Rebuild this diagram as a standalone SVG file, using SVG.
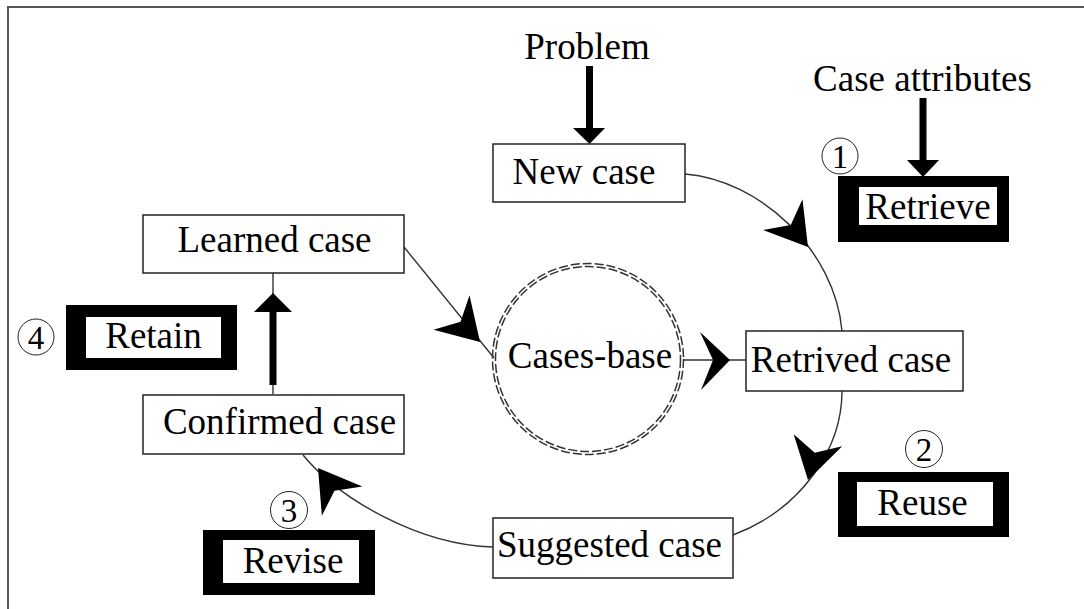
<svg xmlns="http://www.w3.org/2000/svg" width="1084" height="609" viewBox="0 0 1084 609">
<defs>
<style>
text{font-family:"Liberation Serif","Times New Roman",serif;font-size:37px;fill:#000;text-anchor:middle}
.box{fill:#fff;stroke:#222;stroke-width:1.5}
.outer{fill:#000}
.inner{fill:#fff}
.num{font-size:33px}
.ring{fill:#fff;stroke:#222;stroke-width:1}
.conn{fill:none;stroke:#333;stroke-width:1.4}
.thick{fill:none;stroke:#000;stroke-width:7}
.dash{fill:none;stroke:#333;stroke-width:1.5;stroke-dasharray:9 3}
</style>
<path id="ah" d="M0,0 L-41,-25 L-28,0 L-41,25 Z" fill="#000"/>
</defs>
<rect width="1084" height="609" fill="#fff"/>
<g id="frame">
<path d="M8,609 V7 H1084" fill="none" stroke="#555" stroke-width="2"/>
</g>
<g id="connectors">
<path class="conn" d="M685,174 C760,180 835,250 842,331"/>
<use href="#ah" transform="translate(808,247) rotate(52)"/>
<path class="conn" d="M842,391 C842,450 800,510 733,535"/>
<use href="#ah" transform="translate(808,480) rotate(104)"/>
<path class="conn" d="M493,547 C420,545 340,500 303,455"/>
<use href="#ah" transform="translate(318,468) rotate(234)"/>
<path class="conn" d="M404,247 L494,358"/>
<use href="#ah" transform="translate(480,342) rotate(46)"/>
<path class="conn" d="M683,360 H746"/>
<path d="M730,360 L700,332 L713,360 L701,390 Z" fill="#000"/>
<path class="conn" d="M273,273 V394"/>
<path class="thick" d="M273,310 V385"/>
<path d="M254,312 L273,293 L292,312 Z" fill="#000"/>
<path class="thick" d="M589.5,66 V130" stroke-width="6.5"/>
<path d="M573,128 L605,128 L589.5,144 Z" fill="#000"/>
<path class="thick" d="M923,98 V162"/>
<path d="M907,160 L939,160 L923,177 Z" fill="#000"/>
</g>
<g id="problem"><text x="587" y="59">Problem</text></g>
<g id="case-attributes"><text x="922.5" y="91">Case attributes</text></g>
<g id="new-case"><rect class="box" x="493" y="144" width="192" height="58"/><text x="584" y="184">New case</text></g>
<g id="learned-case"><rect class="box" x="143" y="215" width="261" height="58"/><text x="274.5" y="252">Learned case</text></g>
<g id="confirmed-case"><rect class="box" x="143" y="395" width="261" height="59"/><text x="279.5" y="434">Confirmed case</text></g>
<g id="retrived-case"><rect class="box" x="746" y="331" width="217" height="60"/><text x="851" y="372">Retrived case</text></g>
<g id="suggested-case"><rect class="box" x="493" y="518" width="240" height="60"/><text x="609.5" y="557">Suggested case</text></g>
<g id="cases-base">
<circle cx="588" cy="359" r="92.5" fill="#fff" class="dash"/>
<circle cx="588" cy="359" r="95.5" class="dash"/>
<text x="590" y="368">Cases-base</text>
</g>
<g id="retrieve"><rect class="outer" x="838" y="176" width="171" height="66"/><rect class="inner" x="859" y="187" width="138" height="38"/><text x="928" y="219">Retrieve</text></g>
<g id="reuse"><rect class="outer" x="838" y="472" width="171" height="65"/><rect class="inner" x="857" y="482" width="136" height="44"/><text x="922.5" y="515">Reuse</text></g>
<g id="retain"><rect class="outer" x="66" y="305" width="171" height="65"/><rect class="inner" x="86" y="317" width="135" height="41"/><text x="153.5" y="348">Retain</text></g>
<g id="revise"><rect class="outer" x="203" y="530" width="172" height="65"/><rect class="inner" x="223" y="540" width="136" height="43"/><text x="293" y="573">Revise</text></g>
<g id="step1"><circle class="ring" cx="840" cy="156" r="18"/><text class="num" x="840" y="167.5">1</text></g>
<g id="step2"><circle class="ring" cx="924" cy="449" r="18.5"/><text class="num" x="924" y="460.5">2</text></g>
<g id="step3"><circle class="ring" cx="289" cy="510" r="18.5"/><text class="num" x="289" y="521.5">3</text></g>
<g id="step4"><circle class="ring" cx="36" cy="337" r="18"/><text class="num" x="36" y="348.5">4</text></g>
</svg>
